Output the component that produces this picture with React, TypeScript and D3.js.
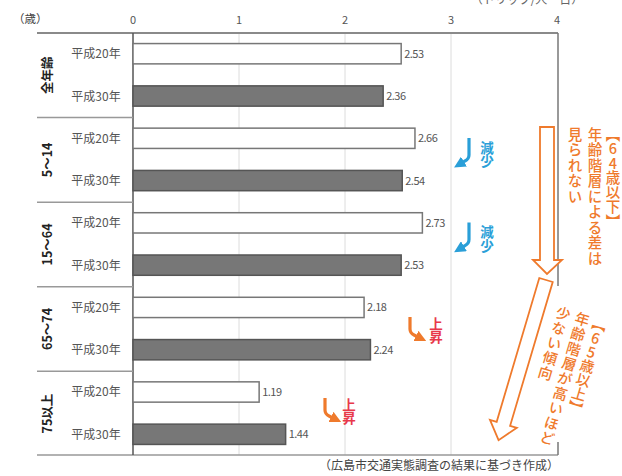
import React from "react";
import * as d3 from "d3";

const groups = ["全年齢", "5～14", "15～64", "65～74", "75以上"];
const years = ["平成20年", "平成30年"];
const values = [
  [2.53, 2.36],
  [2.66, 2.54],
  [2.73, 2.53],
  [2.18, 2.24],
  [1.19, 1.44],
];
const ticks = [0, 1, 2, 3, 4];

const W = 622;
const H = 476;
const FONT = "'Noto Sans CJK JP', 'Noto Sans', sans-serif";
const BLUE = "#2a9fd8";
const ORANGE = "#ef7a2c";
const RED = "#e8384a";

type Row = { id: string; group: number; year: number; value: number };
const rows: Row[] = [];
groups.forEach((g, gi) =>
  years.forEach((y, yi) =>
    rows.push({ id: `${gi}-${yi}`, group: gi, year: yi, value: values[gi][yi] })
  )
);

function VText({ x, y, text, size, fill, spacing = 0, weight = 500 }: any) {
  return (
    <text
      x={x}
      y={y}
      fill={fill}
      fontSize={size}
      fontFamily={FONT}
      fontWeight={weight}
      style={{ writingMode: "vertical-rl", textOrientation: "upright", letterSpacing: spacing } as any}
    >
      {text}
    </text>
  );
}

export default function App() {
  const x = d3.scaleLinear().domain([0, 4]).range([133, 557]);
  const y = d3
    .scaleBand<string>()
    .domain(rows.map((r) => r.id))
    .range([33, 455])
    .paddingInner(0.52)
    .paddingOuter(0.25);
  const step = y.step();
  const top = 33;
  const bottom = 455;
  const groupTop = (gi: number) => top + gi * step * 2;

  return (
    <svg width={W} height={H} style={{ position: "absolute", left: 0, top: 0, background: "#fff" }}>
      <defs>
        <marker id="hb" viewBox="0 0 10 10" refX="4" refY="5" markerWidth="3.6" markerHeight="3.6" orient="auto">
          <path d="M0,0 L10,5 L0,10 z" fill={BLUE} />
        </marker>
        <marker id="ho" viewBox="0 0 10 10" refX="4" refY="5" markerWidth="3.6" markerHeight="3.6" orient="auto">
          <path d="M0,0 L10,5 L0,10 z" fill={ORANGE} />
        </marker>
      </defs>

      {/* unit label, cut at the top edge as in the reference */}
      <text x={527} y={4} textAnchor="middle" fontSize={12} fill="#666" fontFamily={FONT}>
        （トリップ/人・日）
      </text>
      <text x={13} y={23} fontSize={11.5} fill="#444" fontFamily={FONT}>
        （歳）
      </text>
      {ticks.map((t) => (
        <text key={t} x={x(t)} y={24} textAnchor="middle" fontSize={11} fill="#555" fontFamily={FONT}>
          {t}
        </text>
      ))}

      {/* gridlines */}
      {ticks.slice(1, 4).map((t) => (
        <line key={t} x1={x(t)} x2={x(t)} y1={top} y2={bottom} stroke="#dcdcdc" strokeWidth={1} />
      ))}

      {/* frame */}
      <line x1={37} x2={558} y1={top} y2={top} stroke="#8a8a8a" strokeWidth={2} />
      <line x1={37} x2={558} y1={bottom} y2={bottom} stroke="#999" strokeWidth={1.5} />
      <line x1={558} x2={558} y1={top} y2={286} stroke="#777" strokeWidth={1.5} />
      <line x1={558} x2={558} y1={442} y2={bottom} stroke="#777" strokeWidth={1.5} />
      <line x1={x(0)} x2={x(0)} y1={top} y2={bottom} stroke="#555" strokeWidth={1.5} />
      {groups.slice(1).map((g, i) => (
        <line key={g} x1={37} x2={x(0)} y1={groupTop(i + 1)} y2={groupTop(i + 1)} stroke="#999" strokeWidth={1.5} />
      ))}

      {/* group labels */}
      {groups.map((g, gi) => {
        const cy = groupTop(gi) + step;
        return (
          <text
            key={g}
            transform={`translate(52,${cy}) rotate(-90)`}
            textAnchor="middle"
            fontSize={12.5}
            fontWeight={600}
            fill="#222"
            fontFamily={FONT}
          >
            {g}
          </text>
        );
      })}

      {/* bars */}
      {rows.map((r) => {
        const by = y(r.id)!;
        const bh = y.bandwidth();
        return (
          <g key={r.id}>
            <text
              x={96}
              y={by + bh / 2 + 4.5}
              textAnchor="middle"
              fontSize={12}
              fill="#555"
              fontFamily={FONT}
            >
              {years[r.year]}
            </text>
            <rect
              x={x(0)}
              y={by}
              width={x(r.value) - x(0)}
              height={bh}
              fill={r.year === 0 ? "#fff" : "#777"}
              stroke={r.year === 0 ? "#777" : "#555"}
              strokeWidth={1.5}
            />
            <text
              x={x(r.value) + 3}
              y={by + bh / 2 + 4}
              fontSize={11}
              fill="#555"
              fontFamily={FONT}
              letterSpacing={-0.5}
            >
              {r.value.toFixed(2)}
            </text>
          </g>
        );
      })}

      {/* blue decrease arrows */}
      {[0, 1].map((k) => {
        const dy = k * step * 2;
        return (
          <g key={"b" + k}>
            <path
              d={`M469,${138 + dy} V${155 + dy} Q469,${159 + dy} 465,${161 + dy} L460,${164 + dy}`}
              fill="none"
              stroke={BLUE}
              strokeWidth={3.2}
              markerEnd="url(#hb)"
            />
            <VText x={487} y={141 + dy} text="減少" size={13.5} fill={BLUE} weight={700} />
          </g>
        );
      })}

      {/* red increase arrows */}
      {[
        [410, 317, 436],
        [325, 398, 349],
      ].map(([ax, ay, tx], k) => (
        <g key={"r" + k}>
          <path
            d={`M${ax},${ay} V${ay + 12} Q${ax},${ay + 16} ${ax + 4},${ay + 18} L${ax + 10},${ay + 21}`}
            fill="none"
            stroke={ORANGE}
            strokeWidth={3.2}
            markerEnd="url(#ho)"
          />
          <VText x={tx} y={ay} text="上昇" size={13.5} fill={RED} weight={700} />
        </g>
      ))}

      {/* 64歳以下 annotation */}
      <polygon
        points="540,127 554,127 554,260 562,260 547,274 533,260 540,260"
        fill="#fff"
        stroke={ORANGE}
        strokeWidth={1.8}
      />
      <VText x={613} y={127} text="【64歳以下】" size={14.5} fill={ORANGE} />
      <VText x={595} y={127} text="年齢階層による差は" size={14.5} fill={ORANGE} spacing={1} />
      <VText x={575} y={127} text="見られない" size={14.5} fill={ORANGE} spacing={1} />

      {/* 65歳以上 annotation */}
      <g transform="translate(546,280) rotate(16.5)">
        <polygon
          points="-7,0 7,0 7,150 14,150 0,167 -14,150 -7,150"
          fill="#fff"
          stroke={ORANGE}
          strokeWidth={1.8}
        />
        <VText x={64} y={20} text="【65歳以上】" size={14.5} fill={ORANGE} />
        <VText x={46} y={20} text="年齢階層が高いほど" size={14.5} fill={ORANGE} spacing={1} />
        <VText x={26} y={20} text="少ない傾向" size={14.5} fill={ORANGE} spacing={1} />
      </g>

      {/* source */}
      <text x={559} y={470} textAnchor="end" fontSize={12} fill="#444" fontFamily={FONT}>
        （広島市交通実態調査の結果に基づき作成）
      </text>
    </svg>
  );
}
